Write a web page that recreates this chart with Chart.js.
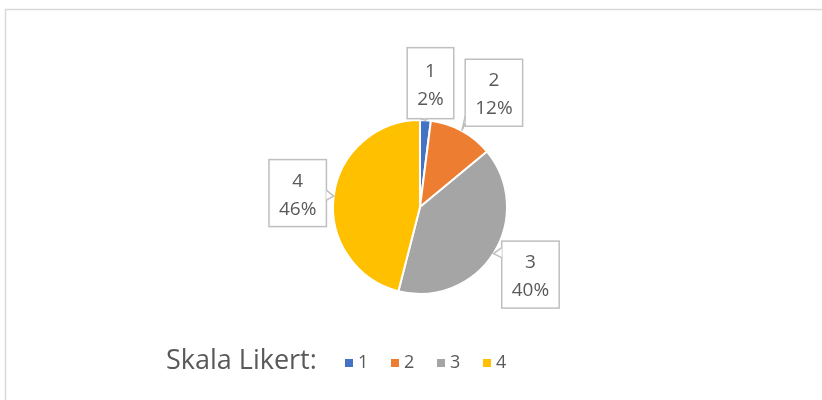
<!DOCTYPE html>
<html>
<head>
<meta charset="utf-8">
<script src="https://cdn.jsdelivr.net/npm/chart.js@4/dist/chart.umd.min.js"></script>
<style>
  html, body { margin: 0; padding: 0; background: #fff; }
  #wrap { position: relative; width: 822px; height: 400px; }
</style>
</head>
<body>
<div id="wrap"><canvas id="pieChart" width="822" height="400"></canvas></div>
<script>
// ====== DATA ======
const categories = ["1", "2", "3", "4"];
const percentValues = [2, 12, 40, 46];
const legendTitle = "Skala Likert:";

const sliceColors = ["#4472C4", "#ED7D31", "#A5A5A5", "#FFC000"];
const textColor = "#595959";

// callout box offsets from the slice edge (layout only)
const calloutOffsets = [[5, -37], [32, -38], [37, 21], [-36, -3]];

// ====== FRAME ======
const framePlugin = {
  id: "frame",
  beforeDraw(chart) {
    const c = chart.ctx;
    c.save();
    c.strokeStyle = "#d9d9d9";
    c.lineWidth = 1.5;
    c.beginPath();
    c.moveTo(5.5, 400);
    c.lineTo(5.5, 9.5);
    c.lineTo(822, 9.5);
    c.stroke();
    c.restore();
  }
};

// ====== CALLOUT LABELS ======
const calloutPlugin = {
  id: "callouts",
  afterDatasetsDraw(chart) {
    const c = chart.ctx;
    const meta = chart.getDatasetMeta(0);
    c.save();
    c.font = "19px 'Open Sans', sans-serif";
    c.textAlign = "center";
    c.textBaseline = "middle";
    meta.data.forEach((arc, i) => {
      const mid = (arc.startAngle + arc.endAngle) / 2;
      const ax = arc.x + Math.cos(mid) * arc.outerRadius;
      const ay = arc.y + Math.sin(mid) * arc.outerRadius;
      const line1 = categories[i];
      const line2 = percentValues[i] + "%";
      const w = Math.max(c.measureText(line1).width, c.measureText(line2).width) + 20;
      const h = i === 0 ? 71 : 67;
      const cx = ax + calloutOffsets[i][0];
      const cy = ay + calloutOffsets[i][1];
      const x0 = cx - w / 2, y0 = cy - h / 2;

      c.fillStyle = "#fff";
      c.strokeStyle = "#bfbfbf";
      c.lineWidth = 1.5;
      c.fillRect(x0, y0, w, h);
      c.strokeRect(x0, y0, w, h);

      // tail toward the slice
      let p1, p2;
      if (ay >= y0 + h) {          // below box
        const bx = Math.min(Math.max(ax, x0 + 6), x0 + w - 6);
        p1 = [bx - 5, y0 + h]; p2 = [bx + 2, y0 + h];
        if (ax < x0) { p1 = [x0, y0 + h - 10]; p2 = [x0, y0 + h - 3]; }
      } else if (ax <= x0) {       // left of box
        p1 = [x0, ay - 6]; p2 = [x0, ay + 4];
      } else {                     // right of box
        p1 = [x0 + w, ay - 6]; p2 = [x0 + w, ay + 4];
      }
      c.beginPath();
      c.moveTo(p1[0], p1[1]);
      c.lineTo(ax, ay);
      c.lineTo(p2[0], p2[1]);
      c.closePath();
      c.fill();
      c.beginPath();
      c.moveTo(p1[0], p1[1]);
      c.lineTo(ax, ay);
      c.lineTo(p2[0], p2[1]);
      c.stroke();

      c.fillStyle = textColor;
      c.fillText(line1, cx, cy - 12);
      c.fillText(line2, cx, cy + 16);
    });
    c.restore();
  }
};

// ====== LEGEND ======
const legendPlugin = {
  id: "customLegend",
  afterDraw(chart) {
    const c = chart.ctx;
    c.save();
    c.textBaseline = "middle";
    c.textAlign = "left";
    const y = 363;
    c.font = "27px 'Open Sans', sans-serif";
    c.fillStyle = textColor;
    c.fillText(legendTitle, 166, y - 2);
    c.font = "18px 'Open Sans', sans-serif";
    let x = 345;
    categories.forEach((cat, i) => {
      c.fillStyle = sliceColors[i];
      c.fillRect(x, y - 4, 8, 8);
      c.fillStyle = textColor;
      c.fillText(cat, x + 13, y);
      x += 46;
    });
    c.restore();
  }
};

// ====== PIE (Chart.js) ======
const ctx = document.getElementById("pieChart").getContext("2d");

const pieChart = new Chart(ctx, {
  type: "pie",
  data: {
    labels: categories,
    datasets: [{
      data: percentValues,
      backgroundColor: sliceColors,
      borderColor: "#ffffff",
      borderWidth: 2
    }]
  },
  options: {
    responsive: false,
    animation: false,
    layout: {
      padding: { top: 119, bottom: 105, left: 332, right: 314 }
    },
    plugins: {
      legend: { display: false },
      tooltip: { enabled: false }
    }
  },
  plugins: [framePlugin, calloutPlugin, legendPlugin]
});
</script>
</body>
</html>
